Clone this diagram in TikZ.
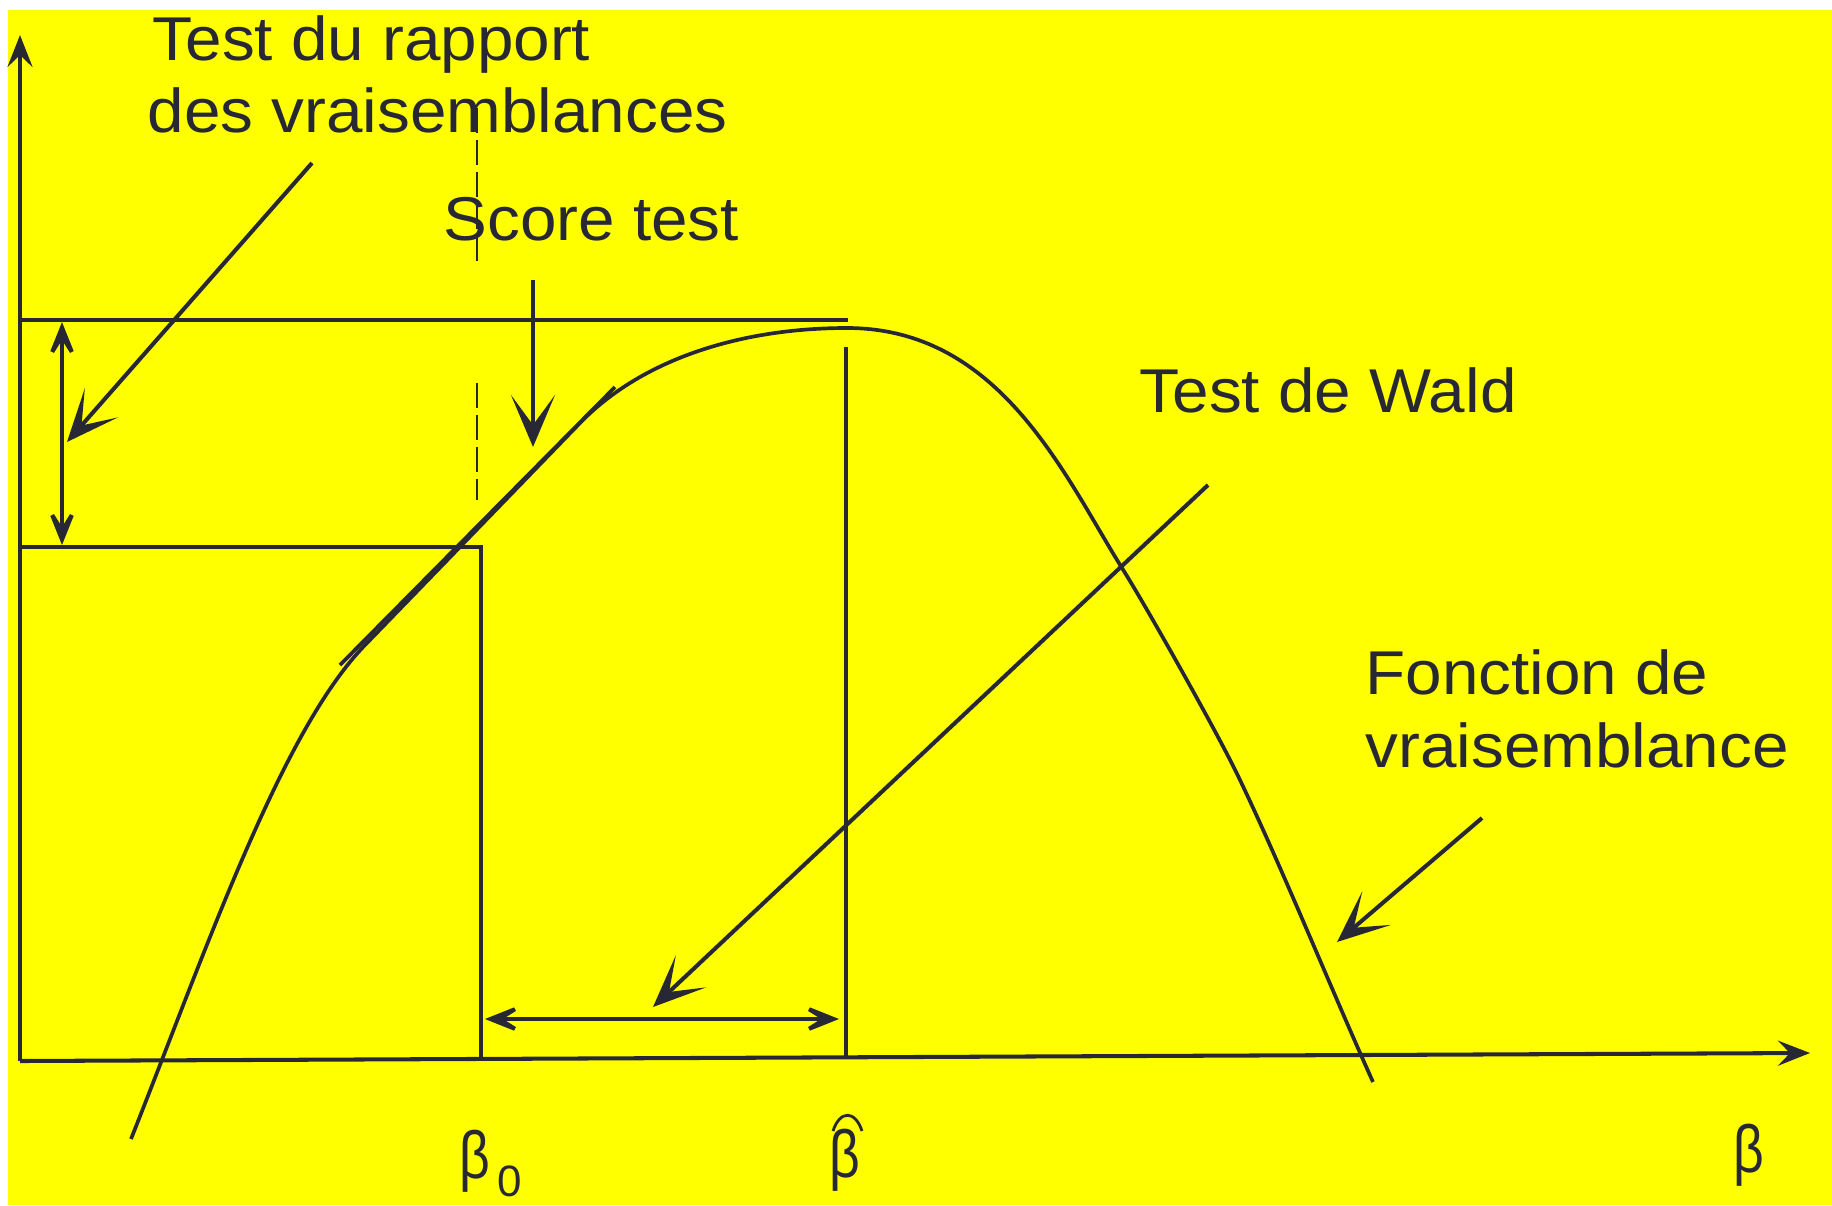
\documentclass[tikz,border=0pt]{standalone}
\usepackage{fontspec}
\setmainfont{Liberation Sans}
\usetikzlibrary{arrows.meta}
\definecolor{bgyellow}{RGB}{255,255,0}
\definecolor{ink}{RGB}{40,40,52}
\newcommand{\lbl}[1]{\scalebox{1.06}[1]{#1}}
\newcommand{\nb}{\scalebox{0.8}[1]{β}}
\begin{document}
\begin{tikzpicture}[x=0.01cm,y=-0.01cm,
  thinline/.style={draw=ink, line width=1.15pt},
  curveline/.style={draw=ink, line width=1.05pt},
  bigtip/.style={-{Stealth[length=0.52cm,width=0.44cm,inset=0.3cm]}},
  bothtip/.style={{Stealth[length=0.5cm,width=0.4cm,inset=0.32cm]}-{Stealth[length=0.5cm,width=0.4cm,inset=0.32cm]}},
  axistip/.style={-{Stealth[length=0.32cm,width=0.25cm,inset=0.12cm]}},
  dashline/.style={draw=ink, line width=0.6pt, dash pattern=on 0.25cm off 0.07cm},
  lab/.style={anchor=base west, inner sep=0pt, text=ink, font=\fontsize{17.6}{20}\selectfont},
  blab/.style={anchor=base west, inner sep=0pt, text=ink, font=\fontsize{19}{21}\selectfont}
]
\fill[white] (0,0) rectangle (1832,1205);
\fill[bgyellow] (8,10) rectangle (1832,1205);
\useasboundingbox (0,0) rectangle (1832,1205);

% key points
\coordinate (O) at (20,1061);
\coordinate (Ytop) at (20,35);
\coordinate (Xend) at (1810,1053);
\coordinate (Ul) at (20,320);
\coordinate (Ur) at (848,320);
\coordinate (Bl) at (20,547);
\coordinate (Bc) at (481,547);
\coordinate (Bb) at (481,1060);
\coordinate (Ht) at (846,347);
\coordinate (Hb) at (846,1058);
\coordinate (Va) at (62,322);
\coordinate (Vb) at (62,545);
\coordinate (Da) at (477,108);
\coordinate (Db) at (477,265);
\coordinate (Dc) at (477,383);
\coordinate (Dd) at (477,500);
\coordinate (Sa) at (533,280);
\coordinate (Sb) at (533,447);
\coordinate (La) at (312,163);
\coordinate (Lb) at (67,442);
\coordinate (Wa) at (1208,485);
\coordinate (Wb) at (653,1007);
\coordinate (Fa) at (1482,818);
\coordinate (Fb) at (1337,942);
\coordinate (Ha) at (485,1019);
\coordinate (Hz) at (839,1019);
\coordinate (Ta) at (340,665);
\coordinate (Tb) at (615,387);
% curve points
\coordinate (C0) at (131,1139);
\coordinate (C1) at (367,643);
\coordinate (C2) at (580,423);
\coordinate (C3) at (847,328);
\coordinate (C4) at (1122,568);
\coordinate (C5) at (1240,780);
\coordinate (C6) at (1373,1082);

% axes
\draw[thinline, axistip] (O) -- (Ytop);
\draw[thinline, axistip] (O) -- (Xend);

% horizontal levels and verticals
\draw[thinline] (Ul) -- (Ur);
\draw[thinline] (Bl) -- (Bc) -- (Bb);
\draw[thinline] (Ht) -- (Hb);
\draw[dashline] (Da) -- (Db);
\draw[dashline] (Dc) -- (Dd);

% likelihood curve
\draw[curveline] (C0) .. controls (205,953) and (282,728) .. (C1)
  -- (C2) .. controls (640,361) and (737,328) .. (C3)
  .. controls (1000,328) and (1064,475) .. (C4)
  .. controls (1146,606) and (1221,739) .. (C5)
  .. controls (1283,870) and (1332,991) .. (C6);

% tangent (score)
\draw[curveline] (Ta) -- (Tb);

% arrows
\draw[thinline, bothtip] (Va) -- (Vb);
\draw[thinline, bothtip] (Ha) -- (Hz);
\draw[thinline, bigtip] (La) -- (Lb);
\draw[thinline, bigtip] (Sa) -- (Sb);
\draw[thinline, bigtip] (Wa) -- (Wb);
\draw[thinline, bigtip] (Fa) -- (Fb);

% labels
\node[lab] (t1) at (152,60) {\lbl{Test du rapport}};
\node[lab] (t2) at (147,132) {\lbl{des vraisemblances}};
\node[lab] (t3) at (443,240) {\lbl{Score test}};
\node[lab] (t4) at (1139,412) {\lbl{Test de Wald}};
\node[lab] (t5) at (1365,694) {\lbl{Fonction de}};
\node[lab] (t6) at (1365,767) {\lbl{vraisemblance}};

\node[blab] (b0) at (459,1178) {\nb};
\node[lab, font=\fontsize{12.5}{14}\selectfont] (b0s) at (497,1196) {0};
\node[blab] (bh) at (829,1177) {\nb};
\draw[draw=ink, line width=0.8pt] (833,1131) .. controls (840,1110) and (855,1110) .. (862,1131);
\node[blab] (bx) at (1733,1172) {\nb};
\end{tikzpicture}
\end{document}
